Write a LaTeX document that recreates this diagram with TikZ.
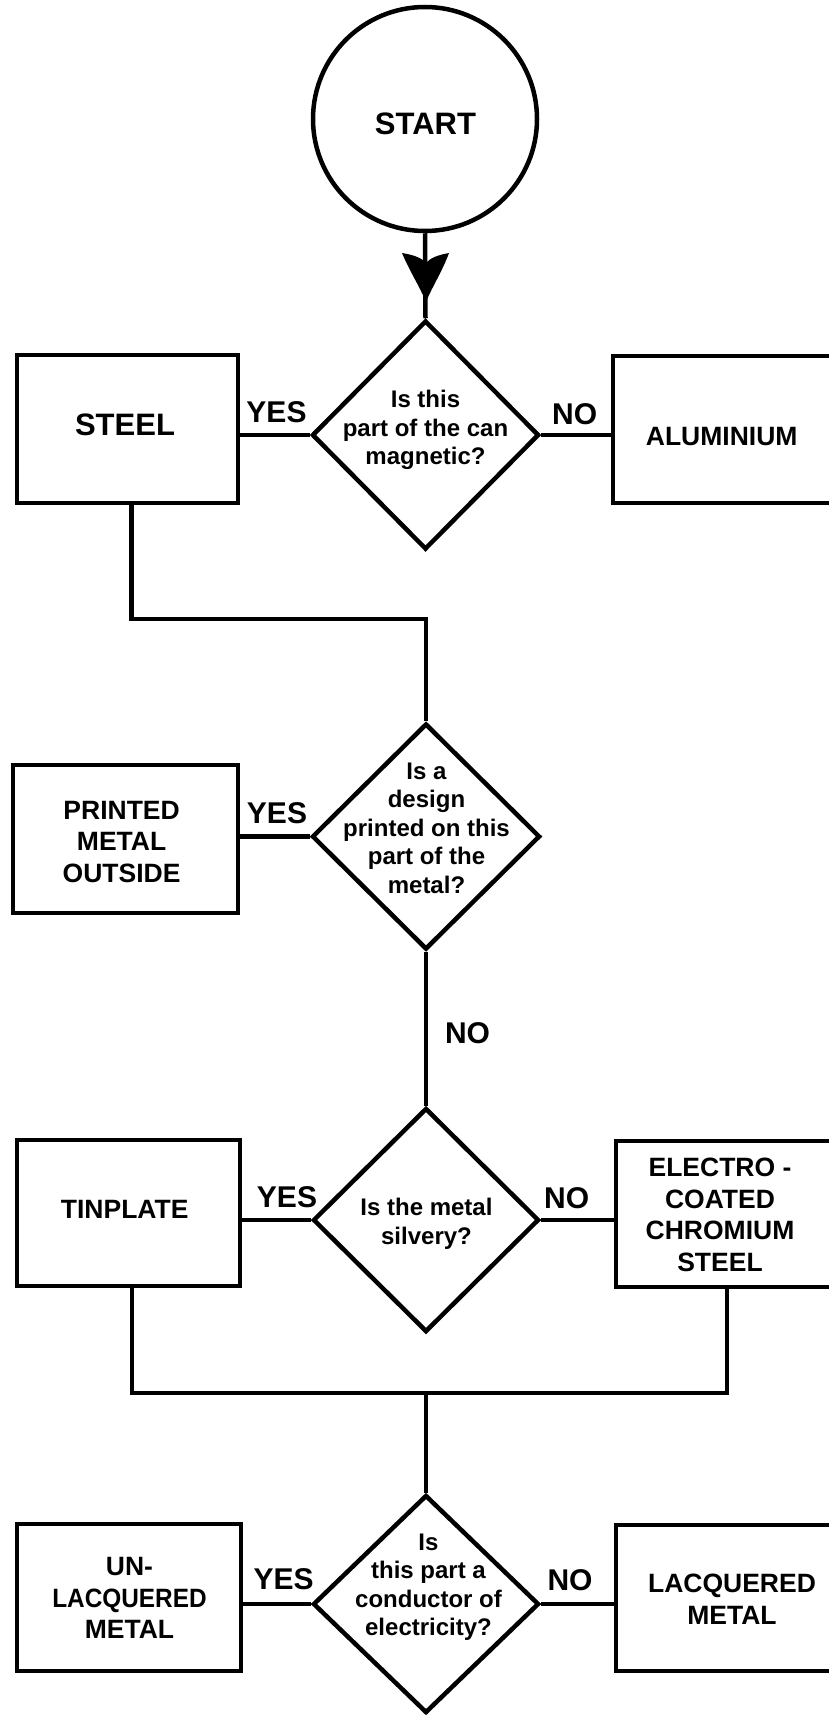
\documentclass[tikz,border=0pt]{standalone}
\usepackage{fontspec}
\setmainfont{Liberation Sans}
\usetikzlibrary{calc,shapes.geometric}
\begin{document}
\begin{tikzpicture}[x=1pt,y=-1pt,
  ln/.style={line width=4.5pt},
  box/.style={draw,line width=4.5pt,rectangle,inner sep=0pt},
  dia/.style={draw,line width=4.5pt,diamond,inner sep=0pt},
  txt/.style={inner sep=0pt,align=center},
  qtext/.style={txt,font=\bfseries\fontsize{24}{28.5}\selectfont},
  lab/.style={txt,font=\bfseries\fontsize{30}{36}\selectfont},
  btext/.style={txt,font=\bfseries\fontsize{26.5}{31.5}\selectfont},
  big/.style={txt,font=\bfseries\fontsize{31}{36}\selectfont}]
\clip (0,0) rectangle (829,1715);
\fill[white] (0,0) rectangle (829,1715);

% start
\node[draw,circle,line width=4.5pt,inner sep=0pt,minimum size=224pt] (start) at (425,119) {};
\node[big] (startt) at (425.5,124) {START};

% diamonds
\node[dia,minimum width=227pt,minimum height=229pt] (d1) at (425.5,435) {};
\node[dia,minimum width=228pt,minimum height=226pt] (d2) at (426,836.5) {};
\node[dia,minimum width=226pt,minimum height=224pt] (d3) at (426,1220) {};
\node[dia,minimum width=226pt,minimum height=218pt] (d4) at (426,1604) {};

\node[qtext] (d1t) at (425.5,430) {Is this\\part of the can\\magnetic?};
\node[qtext] (d2t) at (426.5,828) {Is a\\design\\printed on this\\part of the\\metal?};
\node[qtext] (d3t) at (426.5,1224) {Is the metal\\silvery?};
\node[qtext] (d4t) at (428.5,1587) {Is\\this part a\\conductor of\\electricity?};

% boxes
\node[box,minimum width=221pt,minimum height=148pt] (steel) at (127.5,429) {};
\node[box,minimum width=221pt,minimum height=147pt] (alum) at (723.5,429.5) {};
\node[box,minimum width=225pt,minimum height=148pt] (printed) at (125.5,839) {};
\node[box,minimum width=223pt,minimum height=146pt] (tinplate) at (128.5,1213) {};
\node[box,minimum width=221pt,minimum height=146pt] (electro) at (726.5,1214) {};
\node[box,minimum width=224pt,minimum height=147pt] (unlac) at (129,1597.5) {};
\node[box,minimum width=222pt,minimum height=146pt] (lacq) at (727,1598) {};

\node[big] (steelt) at (125,425) {STEEL};
\node[btext] (alumt) at (721.7,437) {ALUMINIUM};
\node[btext] (printedt) at (121.6,842) {PRINTED\\METAL\\OUTSIDE};
\node[btext] (tinplatet) at (124.7,1209) {TINPLATE};
\node[btext] (electrot) at (720,1215) {ELECTRO -\\COATED\\CHROMIUM\\STEEL};
\node[btext] (unlact) at (129.5,1598) {UN-\\\scalebox{0.92}[1]{LACQUERED}\\METAL};
\node[btext] (lacqt) at (732,1599) {LACQUERED\\METAL};

% labels
\node[lab] (yes1) at (276.5,412.5) {YES};
\node[lab] (no1) at (574.6,414) {NO};
\node[lab] (yes2) at (277,813.4) {YES};
\node[lab] (no2) at (467.5,1033) {NO};
\node[lab] (yes3) at (287,1197) {YES};
\node[lab] (no3) at (566.6,1198) {NO};
\node[lab] (yes4) at (283.7,1579) {YES};
\node[lab] (no4) at (570,1580) {NO};

% junctions
\coordinate (j1) at (426,619);
\coordinate (j2) at (426,1393);
\coordinate (tip) at (426,302);

% connectors
\draw[ln] (start.south) -- (d1.north);
\fill[shift={(tip)}] (-24,-49) .. controls (-16,-30) and (-6,-15) .. (0,0)
  .. controls (6,-15) and (16,-30) .. (23,-49)
  .. controls (12,-47) and (4,-44) .. (0,-39)
  .. controls (-4,-44) and (-12,-47) .. (-24,-49) -- cycle;

\draw[ln] (d1.west) -- (d1.west -| steel.east);
\draw[ln] (d1.east) -- (d1.east -| alum.west);
\draw[ln] ([xshift=4pt]steel.south) |- (j1) -- (d2.north);
\draw[ln] (d2.west) -- (d2.west -| printed.east);
\draw[ln] (d2.south) -- (d3.north);
\draw[ln] (d3.west) -- (d3.west -| tinplate.east);
\draw[ln] (d3.east) -- (d3.east -| electro.west);
\draw[ln] ([xshift=3.5pt]tinplate.south) |- (j2);
\draw[ln] ([xshift=0.5pt]electro.south) |- (j2);
\draw[ln] (j2) -- (d4.north);
\draw[ln] (d4.west) -- (d4.west -| unlac.east);
\draw[ln] (d4.east) -- (d4.east -| lacq.west);
\end{tikzpicture}
\end{document}
